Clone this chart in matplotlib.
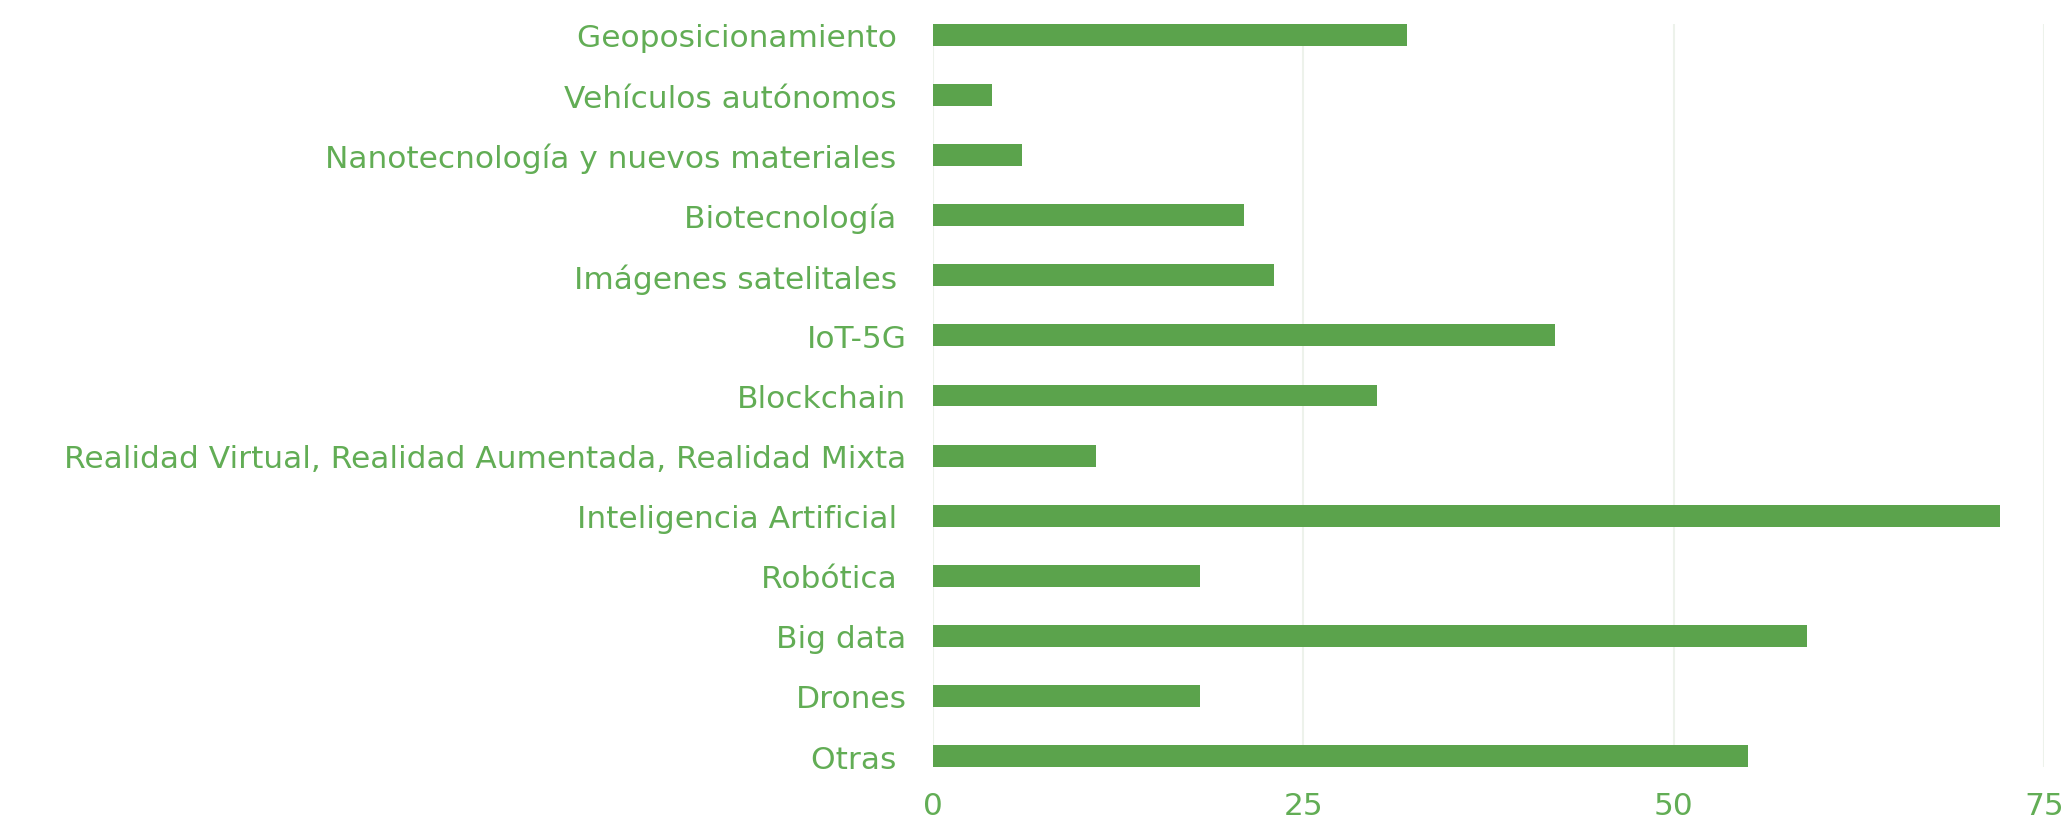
import matplotlib.pyplot as plt

# datos (de arriba hacia abajo)
categorias = ['Geoposicionamiento ', 'Vehículos autónomos ', 'Nanotecnología y nuevos materiales ',
              'Biotecnología ', 'Imágenes satelitales ', 'IoT-5G', 'Blockchain',
              'Realidad Virtual, Realidad Aumentada, Realidad Mixta', 'Inteligencia Artificial ',
              'Robótica ', 'Big data', 'Drones', 'Otras ']
valores = [32, 4, 6, 21, 23, 42, 30, 11, 72, 18, 59, 18, 55]
ticks_x = [0, 25, 50, 75]

verde_barra = '#5ba34c'
verde_texto = '#62ad55'
alto = 0.365

fig = plt.figure(figsize=(20.64, 8.2), dpi=100)
ax = fig.add_axes([0.452, 0.0634, 0.5383, 0.9061])

pos = list(range(len(categorias)))
ax.barh(pos, valores, height=alto, color=verde_barra, zorder=3)

ax.set_ylim(len(categorias) - 1 + alto / 2, -alto / 2)
ax.set_xlim(0, 75)
ax.set_xticks(ticks_x)
ax.set_yticks(pos)
ax.set_yticklabels(categorias)

ax.grid(axis='x', color='#edf2eb', linewidth=1.5, zorder=0)
for s in ax.spines.values():
    s.set_visible(False)
ax.tick_params(axis='both', length=0, labelcolor=verde_texto, labelsize=22.5)
ax.tick_params(axis='y', pad=19)
ax.tick_params(axis='x', pad=17)
for t in ax.get_xticklabels() + ax.get_yticklabels():
    t.set_fontfamily('DejaVu Sans')

fig.savefig('out.png', dpi=100, facecolor='white')
